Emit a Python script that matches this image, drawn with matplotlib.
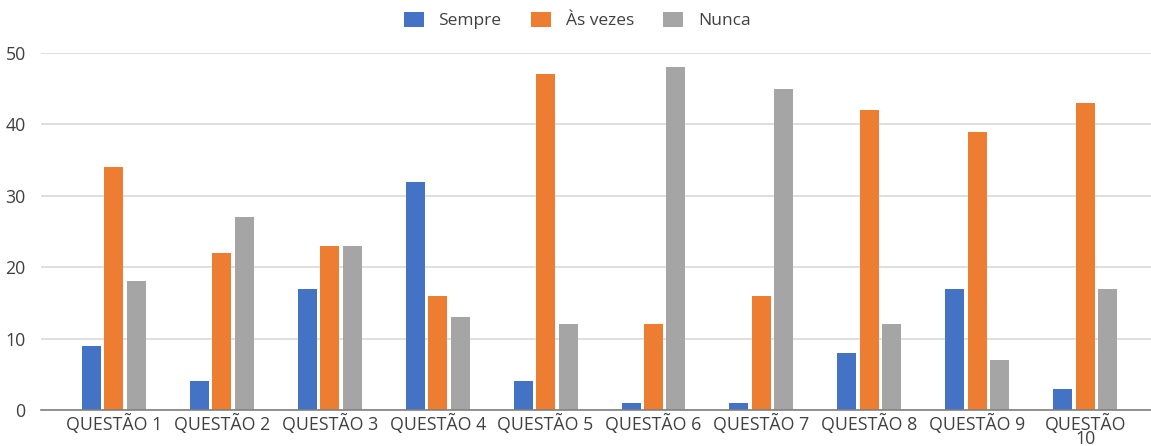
import numpy as np
import matplotlib.pyplot as plt

# Dados do gráfico
questoes = ["QUESTÃO 1", "QUESTÃO 2", "QUESTÃO 3", "QUESTÃO 4", "QUESTÃO 5",
            "QUESTÃO 6", "QUESTÃO 7", "QUESTÃO 8", "QUESTÃO 9", "QUESTÃO\n10"]
sempre = [9, 4, 17, 32, 4, 1, 1, 8, 17, 3]
as_vezes = [34, 22, 23, 16, 47, 12, 16, 42, 39, 43]
nunca = [18, 27, 23, 13, 12, 48, 45, 12, 7, 17]
series_nomes = ["Sempre", "Às vezes", "Nunca"]
cores = ["#4472C4", "#ED7D31", "#A5A5A5"]

plt.rcParams['font.family'] = ['Open Sans', 'DejaVu Sans']
texto = "#404040"

fig = plt.figure(figsize=(11.51, 4.46), dpi=100)
ax = fig.add_axes([41 / 1151, 36 / 446, 1110 / 1151, 357 / 446])

x = np.arange(len(questoes))
largura = 0.176
passo = 0.208
for i, (valores, nome, cor) in enumerate(zip([sempre, as_vezes, nunca], series_nomes, cores)):
    ax.bar(x + (i - 1) * passo, valores, width=largura, color=cor, label=nome, zorder=3)

ax.set_ylim(0, 50)
ax.set_xlim(-0.676, 9.61)
ax.set_yticks(range(0, 51, 10))
ax.set_xticks(x)
ax.set_xticklabels(questoes, fontsize=12.8, color=texto, linespacing=0.72)
ax.tick_params(axis='y', labelsize=12.8, colors=texto, length=0, pad=11)
ax.tick_params(axis='x', length=0, pad=3)
ax.grid(axis='y', color="#D9D9D9", linewidth=1.2, zorder=0)
for lado in ['top', 'right', 'left']:
    ax.spines[lado].set_visible(False)
ax.spines['bottom'].set_color("#808080")
ax.spines['bottom'].set_linewidth(1.2)
ax.spines['bottom'].set_zorder(4)

ax.legend(loc='upper center', bbox_to_anchor=(0.483, 1.16), ncol=3, frameon=False,
          fontsize=12.5, labelcolor=texto, handlelength=1.15, handleheight=1.0,
          columnspacing=1.7, handletextpad=0.85)

fig.savefig("out.png", dpi=100)
